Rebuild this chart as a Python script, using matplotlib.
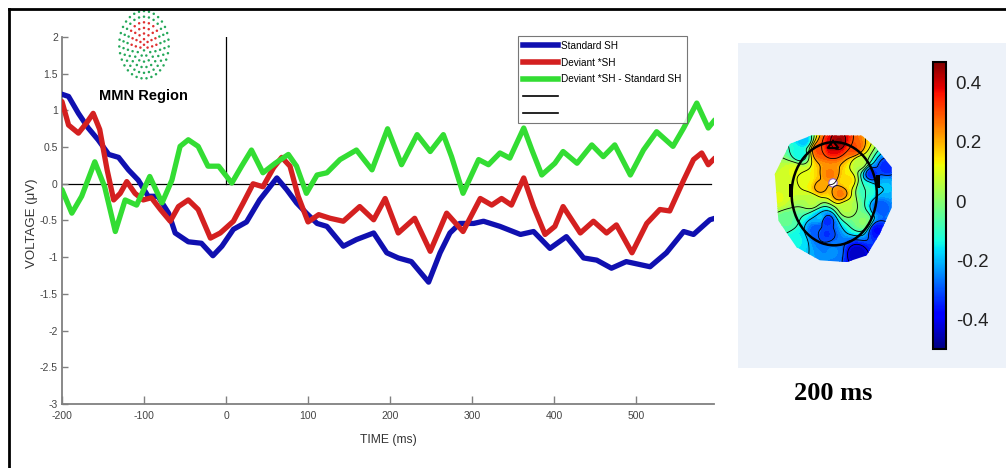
"""ERP waveforms (MMN region) with a 200 ms scalp topography."""

import matplotlib
matplotlib.use("Agg")
import matplotlib.pyplot as plt
import numpy as np
from matplotlib.lines import Line2D
from matplotlib.patches import Rectangle, Polygon, Ellipse, Circle
from matplotlib.cm import ScalarMappable
from matplotlib.colors import Normalize

plt.rcParams["font.family"] = ["Liberation Sans", "DejaVu Sans"]
plt.rcParams["axes.unicode_minus"] = False

W, H = 1006, 468

# ---- ERP data (time in ms, voltage in uV) ----
std_t = [-200, -192, -180, -168, -156, -143, -131, -119, -107, -95, -83, -70, -62, -46, -30, -16,
         -5, 9, 25, 41, 62, 74, 86, 98, 111, 123, 143, 159, 180, 196, 210, 226, 247, 261, 273, 285,
         302, 314, 334, 359, 375, 395, 415, 436, 452, 470, 488, 517, 537, 558, 570, 590, 596]
std_v = [1.22, 1.19, 0.96, 0.76, 0.60, 0.40, 0.36, 0.19, 0.05, -0.17, -0.17, -0.40, -0.67, -0.79,
         -0.81, -0.98, -0.85, -0.62, -0.52, -0.22, 0.08, -0.08, -0.26, -0.40, -0.54, -0.58, -0.85,
         -0.76, -0.67, -0.94, -1.01, -1.06, -1.34, -0.94, -0.67, -0.54, -0.54, -0.51, -0.58, -0.69,
         -0.65, -0.88, -0.72, -1.01, -1.04, -1.15, -1.06, -1.13, -0.94, -0.65, -0.69, -0.49, -0.47]

dev_t = [-200, -192, -180, -170, -162, -154, -145, -137, -129, -121, -111, -101, -91, -80, -68, -58,
         -46, -34, -19, -7, 9, 21, 33, 45, 58, 68, 78, 88, 100, 113, 127, 143, 163, 180, 194, 210,
         230, 249, 269, 289, 310, 324, 336, 348, 363, 375, 389, 401, 411, 432, 448, 464, 476, 495,
         513, 529, 541, 558, 570, 580, 588, 596]
dev_v = [1.12, 0.80, 0.69, 0.83, 0.96, 0.74, 0.19, -0.22, -0.13, 0.03, -0.13, -0.22, -0.19, -0.35,
         -0.51, -0.31, -0.22, -0.35, -0.74, -0.67, -0.51, -0.26, 0.00, -0.04, 0.22, 0.36, 0.24,
         -0.17, -0.52, -0.42, -0.47, -0.51, -0.31, -0.49, -0.20, -0.67, -0.47, -0.92, -0.40, -0.65,
         -0.20, -0.29, -0.20, -0.29, 0.08, -0.31, -0.69, -0.58, -0.31, -0.67, -0.51, -0.67, -0.56,
         -0.94, -0.54, -0.35, -0.37, 0.05, 0.33, 0.42, 0.26, 0.35]

diff_t = [-200, -188, -176, -160, -148, -135, -123, -109, -93, -78, -66, -56, -46, -34, -22, -9, 7,
          19, 31, 45, 60, 76, 86, 98, 111, 123, 139, 159, 178, 197, 214, 233, 249, 265, 275, 289,
          308, 320, 334, 346, 363, 373, 385, 401, 411, 428, 446, 460, 474, 493, 509, 525, 545, 558,
          574, 588, 596]
diff_v = [-0.08, -0.40, -0.17, 0.30, -0.04, -0.65, -0.22, -0.29, 0.10, -0.26, 0.05, 0.51, 0.60,
          0.51, 0.24, 0.24, 0.01, 0.24, 0.46, 0.15, 0.28, 0.40, 0.24, -0.13, 0.12, 0.15, 0.33, 0.46,
          0.19, 0.75, 0.26, 0.67, 0.44, 0.67, 0.37, -0.13, 0.33, 0.26, 0.42, 0.35, 0.76, 0.46, 0.12,
          0.28, 0.44, 0.28, 0.53, 0.37, 0.53, 0.12, 0.46, 0.71, 0.51, 0.76, 1.10, 0.76, 0.87]

labels = ["Standard SH", "Deviant *SH", "Deviant *SH - Standard SH"]
colors = ["#1010b0", "#d42020", "#33dd33"]

x_ticks = [-200, -100, 0, 100, 200, 300, 400, 500]
y_ticks = [-3, -2.5, -2, -1.5, -1, -0.5, 0, 0.5, 1, 1.5, 2]

# ---- topography electrode values (x, y in head units, value) ----
elec_x = [-0.55, -0.22, 0.09, -0.02, 0.34, 0.45, 0.64, 0.87, 0.89, -0.05, 0.12, -0.22, -0.44,
          -0.77, -0.91, -0.77, -0.60, -0.22, -0.11, -0.11, -0.27, 0.23, 0.50, 0.00, 0.39, 0.73,
          0.79, -0.49, -0.65, 0.25, -0.35, 0.55]
elec_y = [0.74, 0.80, 0.94, 0.86, 0.83, 0.60, 0.41, 0.19, 0.52, 0.41, 0.08, 0.19, 0.30, 0.19,
          0.02, -0.37, -0.70, -0.31, -0.37, -0.59, -0.53, -0.16, -0.38, -0.89, -0.92, -0.53,
          -0.14, 0.97, 0.45, 0.30, -0.05, 0.15]
elec_v = [-0.15, 0.30, 0.45, 0.40, 0.30, 0.05, -0.35, -0.20, -0.35, 0.25, 0.25, 0.22, 0.12,
          0.08, 0.10, -0.05, -0.15, -0.20, -0.35, -0.33, -0.30, 0.05, 0.00, -0.25, -0.45, -0.38,
          -0.30, -0.20, 0.10, 0.15, 0.05, -0.10]
cbar_ticks = [0.4, 0.2, 0, -0.2, -0.4]
map_time = "200 ms"


def px(x0, y0, x1, y1):
    return [x0 / W, 1 - y1 / H, (x1 - x0) / W, (y1 - y0) / H]


fig = plt.figure(figsize=(W / 100, H / 100), dpi=100)

# Light panel behind the topography, and the outer frame
fig.add_artist(Rectangle((738 / W, 1 - 368 / H), (1006 - 738) / W, (368 - 43) / H,
                         transform=fig.transFigure, facecolor="#edf2f9", edgecolor="none", zorder=0))
fig.add_artist(Line2D([9 / W, 9 / W], [0, 1 - 9 / H], color="black", lw=2))
fig.add_artist(Line2D([9 / W, 1], [1 - 9 / H, 1 - 9 / H], color="black", lw=2))

# ---- ERP axes ----
ax = fig.add_axes(px(62, 37, 714, 404))
ax.set_xlim(-200, 595)
ax.set_ylim(-3, 2)
for name in ["top", "right"]:
    ax.spines[name].set_visible(False)
for name in ["left", "bottom"]:
    ax.spines[name].set_color("#808080")
    ax.spines[name].set_linewidth(1.3)

ax.plot([-200, 591], [0, 0], color="black", lw=0.9, zorder=1)
ax.plot([0, 0], [0, 2], color="black", lw=0.9, zorder=1)

series = [(std_t, std_v), (dev_t, dev_v), (diff_t, diff_v)]
for (t, v), c in zip(series, colors):
    ax.plot(t, v, color=c, lw=3.8, solid_joinstyle="round", solid_capstyle="round", zorder=3)

ax.set_xticks(x_ticks)
ax.set_yticks(y_ticks)
ax.set_yticklabels(["%g" % y for y in y_ticks])
ax.tick_params(axis="x", direction="in", length=6, width=1, color="#808080",
               labelsize=7.5, labelcolor="#444444", pad=5)
ax.tick_params(axis="y", direction="in", length=4, width=1, color="#808080",
               labelsize=7.5, labelcolor="#444444", pad=3)

handles = [Line2D([], [], color=c, lw=4) for c in colors]
handles += [Line2D([], [], color="black", lw=1.2), Line2D([], [], color="black", lw=1.2)]
leg = ax.legend(handles, labels + ["", ""], loc="upper left", bbox_to_anchor=(0.699, 1.003),
                fontsize=7.2, frameon=True, fancybox=False, edgecolor="#555555",
                borderpad=0.5, handlelength=3.5, handletextpad=0.35, labelspacing=0.68,
                borderaxespad=0)
leg.get_frame().set_linewidth(0.8)

fig.text(32 / W, 1 - 223 / H, "VOLTAGE (μV)", rotation=90, ha="center", va="center",
         fontsize=9.5, color="#333333")
fig.text(388 / W, 1 - 440 / H, "TIME (ms)", ha="center", va="center", fontsize=8.7,
         color="#333333")
fig.text(143 / W, 1 - 96 / H, "MMN Region", ha="center", va="center", fontsize=10.5,
         fontweight="bold")

# ---- electrode layout icon ----
eax = fig.add_axes(px(112, 8, 176, 80))
eax.axis("off")
pts_x, pts_y, pts_c = [], [], []
for k in range(1, 7):
    n = 5 * k + 1
    for i in range(n):
        a = np.pi / 2 + 2 * np.pi * i / n
        r = k / 6.0
        x, y = 0.85 * r * np.cos(a), r * np.sin(a) * 1.1
        pts_x.append(x)
        pts_y.append(y)
        red = (k <= 3 and y > -0.15) or (k == 4 and y > 0.3)
        pts_c.append("#e03030" if red else "#25a85a")
pts_x.append(0)
pts_y.append(0)
pts_c.append("#e03030")
eax.scatter(pts_x, pts_y, s=3.2, c=pts_c, linewidths=0)
eax.set_xlim(-1.1, 1.1)
eax.set_ylim(-1.15, 1.2)

# ---- topography ----
tax = fig.add_axes(px(773, 135, 893, 262))
tax.axis("off")
tax.set_xlim(-1, 1)
tax.set_ylim(-127 / 120, 127 / 120)

gx = np.linspace(-1.05, 1.05, 220)
gy = np.linspace(-1.1, 1.1, 220)
GX, GY = np.meshgrid(gx, gy)
ex, ey, ev = np.array(elec_x), np.array(elec_y), np.array(elec_v)
d = np.sqrt((GX[..., None] - ex) ** 2 + (GY[..., None] - ey) ** 2) + 1e-6
w = 1.0 / d ** 3.2
Z = (w * ev).sum(-1) / w.sum(-1)

outline = [(-0.36, 1.05), (0.48, 1.05), (0.70, 0.86), (0.98, 0.52), (0.98, -0.15),
           (0.78, -0.59), (0.56, -0.95), (0.23, -1.06), (-0.22, -1.03), (-0.61, -0.81),
           (-0.91, -0.37), (-0.97, 0.41), (-0.72, 0.91)]
clip = Polygon(outline, closed=True, facecolor="none", edgecolor="none", transform=tax.transData)
tax.add_patch(clip)

vmin, vmax = -0.5, 0.47
cf = tax.contourf(GX, GY, Z, levels=np.linspace(vmin, vmax, 40), cmap="jet",
                  vmin=vmin, vmax=vmax, extend="both")
cf.set_clip_path(clip)
cl = tax.contour(GX, GY, Z, levels=[-0.4, -0.3, -0.2, -0.1, 0.0, 0.1, 0.2, 0.3, 0.4],
                 colors="black", linewidths=0.6, linestyles="solid")
cl.set_clip_path(clip)

tax.add_patch(Ellipse((0.02, 0.08), 1.42, 1.72, fill=False, edgecolor="black", lw=1.8))
tax.add_patch(Polygon([(-0.09, 0.84), (0.0, 0.96), (0.09, 0.84)], closed=True,
                      facecolor="none", edgecolor="black", lw=1.5))
tax.add_patch(Rectangle((-0.74, 0.02), 0.07, 0.22, facecolor="black"))
tax.add_patch(Rectangle((0.71, 0.18), 0.07, 0.22, facecolor="black"))
tax.add_patch(Circle((0.0, 0.26), 0.07, facecolor="white", edgecolor="#9a60c0", lw=0.8))

cax = fig.add_axes(px(933, 62, 946, 349))
cb = fig.colorbar(ScalarMappable(norm=Normalize(vmin, vmax), cmap="jet"), cax=cax)
cb.set_ticks(cbar_ticks)
cb.set_ticklabels(["%g" % v for v in cbar_ticks])
cb.ax.tick_params(length=0, labelsize=13.5, pad=7, labelcolor="#222222")
cb.outline.set_linewidth(1.5)

fig.text(833 / W, 1 - 393 / H, map_time, ha="center", va="center", fontsize=19,
         fontweight="bold", family="Liberation Serif")

fig.savefig("out.png", dpi=100)
